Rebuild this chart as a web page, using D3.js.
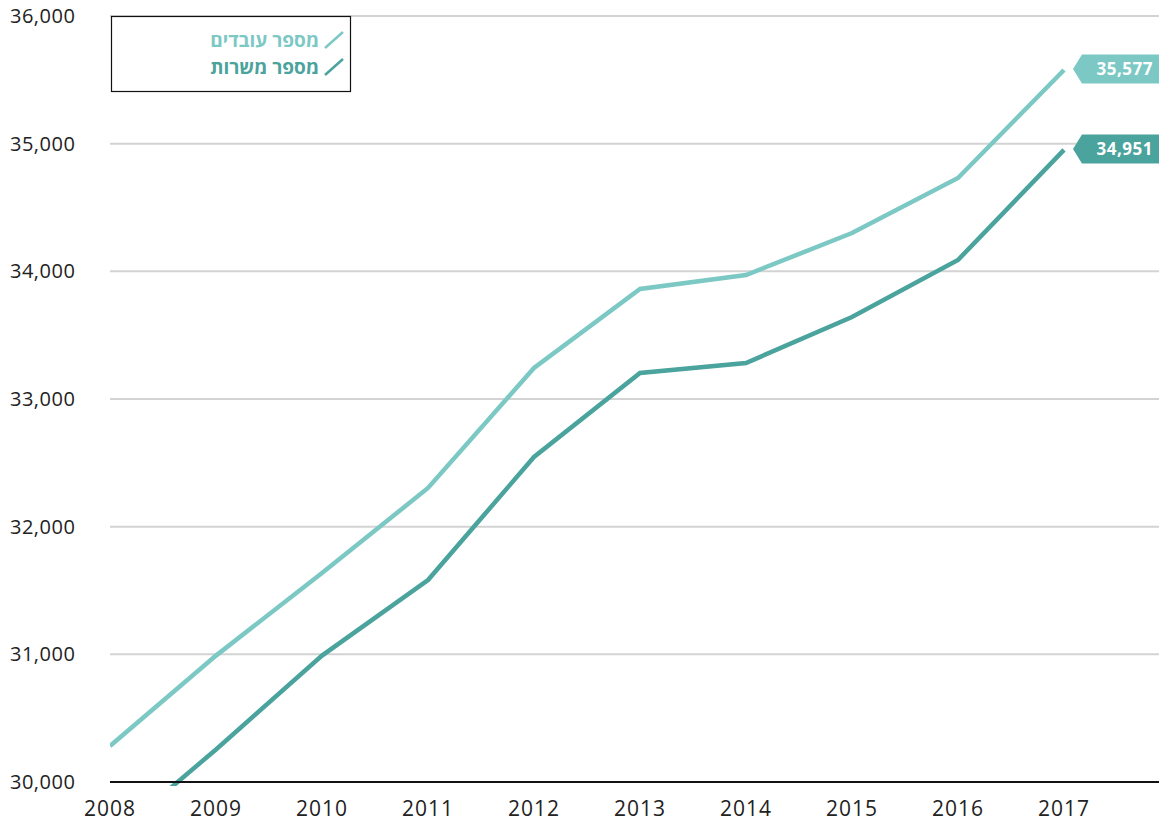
<!DOCTYPE html>
<html>
<head>
<meta charset="utf-8">
<script src="https://cdn.jsdelivr.net/npm/d3@7"></script>
<style>
  html, body { margin: 0; padding: 0; background: #fff; }
  svg { display: block; font-family: "Open Sans", "Noto Sans", "DejaVu Sans", sans-serif; }
</style>
</head>
<body>
<svg id="chart" width="1159" height="822"></svg>
<script>
// data
const years = [2008, 2009, 2010, 2011, 2012, 2013, 2014, 2015, 2016, 2017];
const workers = [30282, 30990, 31637, 32303, 33243, 33862, 33971, 34300, 34731, 35577];
const positions = [29550, 30255, 30990, 31582, 32546, 33204, 33282, 33642, 34089, 34951];
const yTicks = [30000, 31000, 32000, 33000, 34000, 35000, 36000];
const seriesNames = ["מספר עובדים", "מספר משרות"];
const colors = ["#7cc8c4", "#4aa39c"];

const width = 1159, height = 822;
const margin = {top: 16, right: 0, bottom: 40, left: 110};
const svg = d3.select("#chart");

const x = d3.scaleLinear()
    .domain([2008, 2017])
    .range([110, 1064]);

const y = d3.scaleLinear()
    .domain([30000, 36000])
    .range([height - margin.bottom, margin.top]);

const fmt = d3.format(",");

// gridlines
svg.append("g")
    .attr("class", "grid")
    .selectAll("line")
    .data(yTicks.filter(d => d > 30000))
    .join("line")
    .attr("x1", margin.left)
    .attr("x2", width)
    .attr("y1", d => y(d))
    .attr("y2", d => y(d))
    .attr("stroke", "#d3d3d3")
    .attr("stroke-width", 2);

// y labels
svg.append("g")
    .selectAll("text")
    .data(yTicks)
    .join("text")
    .attr("x", 10)
    .attr("y", d => y(d))
    .attr("dy", "0.35em")
    .attr("font-size", 20)
    .attr("letter-spacing", 0.5)
    .attr("fill", "#222")
    .text(d => fmt(d));

// x labels
svg.append("g")
    .selectAll("text")
    .data(years)
    .join("text")
    .attr("x", d => x(d))
    .attr("y", 816)
    .attr("text-anchor", "middle")
    .attr("font-size", 21)
    .attr("letter-spacing", 1)
    .attr("fill", "#222")
    .text(d => d);

// clip lines at the baseline
svg.append("clipPath")
    .attr("id", "plotClip")
    .append("rect")
    .attr("x", margin.left)
    .attr("y", 0)
    .attr("width", width - margin.left)
    .attr("height", y(30000) + 4);

const line = d3.line()
    .x((d, i) => x(years[i]))
    .y(d => y(d));

const plot = svg.append("g").attr("clip-path", "url(#plotClip)");
[workers, positions].forEach((s, k) => {
    plot.append("path")
        .datum(s)
        .attr("d", line)
        .attr("fill", "none")
        .attr("stroke", colors[k])
        .attr("stroke-width", 4.5)
        .attr("stroke-linejoin", "miter");
});

// baseline
svg.append("line")
    .attr("x1", margin.left)
    .attr("x2", width)
    .attr("y1", y(30000))
    .attr("y2", y(30000))
    .attr("stroke", "#111")
    .attr("stroke-width", 2);

// end value tags
const tags = svg.append("g");
[workers, positions].forEach((s, k) => {
    const v = s[s.length - 1];
    const cy = y(v) - 1;
    const x0 = 1073, x1 = 1082, h = 29;
    tags.append("path")
        .attr("d", `M${x0},${cy} L${x1},${cy - h / 2} L${width},${cy - h / 2} L${width},${cy + h / 2} L${x1},${cy + h / 2} Z`)
        .attr("fill", colors[k]);
    tags.append("text")
        .attr("x", 1153)
        .attr("y", cy)
        .attr("dy", "0.36em")
        .attr("text-anchor", "end")
        .attr("font-size", 17)
        .attr("letter-spacing", 0.5)
        .attr("font-weight", "bold")
        .attr("fill", "#fff")
        .text(fmt(v));
});

// legend
const legend = svg.append("g");
legend.append("rect")
    .attr("x", 111.5)
    .attr("y", 16.5)
    .attr("width", 239)
    .attr("height", 75)
    .attr("fill", "#fff")
    .attr("stroke", "#111")
    .attr("stroke-width", 1.2);

seriesNames.forEach((name, k) => {
    const ly = 40 + k * 27;
    legend.append("line")
        .attr("x1", 325)
        .attr("y1", ly + 8)
        .attr("x2", 343)
        .attr("y2", ly - 8)
        .attr("stroke", colors[k])
        .attr("stroke-width", 2.5);
    legend.append("text")
        .attr("x", 319)
        .attr("y", ly)
        .attr("dy", "0.35em")
        .attr("text-anchor", "end")
        .attr("font-size", 19)
        .attr("font-weight", "bold")
        .attr("fill", colors[k])
        .text(name);
});
</script>
</body>
</html>
